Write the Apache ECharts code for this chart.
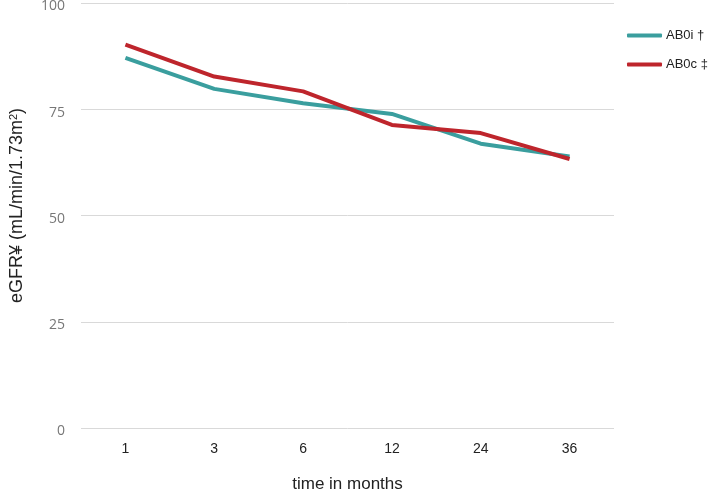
<!DOCTYPE html>
<html><head><meta charset="utf-8">
<script src="https://cdn.jsdelivr.net/npm/echarts@6/dist/echarts.min.js"></script>
<style>html,body{margin:0;padding:0;background:#fff}#c{width:709px;height:491px}</style>
</head><body><div id="c"></div>
<script>
var categories = ['1', '3', '6', '12', '24', '36'];
var ab0i = [87.1, 79.8, 76.4, 73.9, 66.9, 63.9];
var ab0c = [90.2, 82.7, 79.2, 71.3, 69.4, 63.3];
var yTicks = [0, 25, 50, 75, 100];

var chart = echarts.init(document.getElementById('c'));
chart.setOption({
  animation: false,
  backgroundColor: '#fff',
  grid: { left: 81, right: 95, top: 3, bottom: 63, containLabel: false, outerBoundsMode: 'none' },
  legend: {
    orient: 'vertical', left: 622, top: 24, itemGap: 16,
    itemWidth: 35, itemHeight: 4, icon: 'roundRect',
    textStyle: { color: '#222', fontSize: 13, fontFamily: 'Liberation Sans', padding: [0, 0, 0, -1] },
    data: ['AB0i †', 'AB0c ‡']
  },
  xAxis: {
    type: 'category', data: categories, boundaryGap: true,
    axisLine: { show: false }, axisTick: { show: false },
    axisLabel: { color: '#222', fontSize: 14, margin: 14, fontFamily: 'Liberation Sans Narrow, Liberation Sans' },
    name: 'time in months', nameLocation: 'middle', nameGap: 48,
    nameTextStyle: { color: '#222', fontSize: 17, fontFamily: 'Liberation Sans' }
  },
  yAxis: {
    type: 'value', min: 0, max: 100, interval: 25,
    axisLine: { show: false }, axisTick: { show: false },
    splitLine: { lineStyle: { color: '#d9d9d9', width: 1 } },
    axisLabel: { color: '#777', fontSize: 14, margin: 16, fontFamily: 'Open Sans',
      formatter: function (v) { return yTicks.indexOf(v) >= 0 ? '{a|' + v + '}' : ''; },
      rich: { a: { color: '#777', fontSize: 14, fontFamily: 'Open Sans', padding: [7, 0, 0, 0] } } },
    name: 'eGFR¥ (mL/min/1.73m{sup|2})', nameLocation: 'middle', nameGap: 54, nameRotate: 90,
    nameTextStyle: { color: '#222', fontSize: 18, fontFamily: 'Liberation Sans', padding: [0, 0, 0, 20],
      rich: { sup: { color: '#222', fontSize: 11, fontFamily: 'Liberation Sans', verticalAlign: 'top', padding: [0, 0, 8, 0] } } }
  },
  series: [
    { name: 'AB0i †', type: 'line', data: ab0i, showSymbol: false, symbol: 'none',
      lineStyle: { color: '#3a9e9e', width: 4 }, itemStyle: { color: '#3a9e9e' } },
    { name: 'AB0c ‡', type: 'line', data: ab0c, showSymbol: false, symbol: 'none',
      lineStyle: { color: '#be252c', width: 4 }, itemStyle: { color: '#be252c' } }
  ]
});
</script></body></html>
